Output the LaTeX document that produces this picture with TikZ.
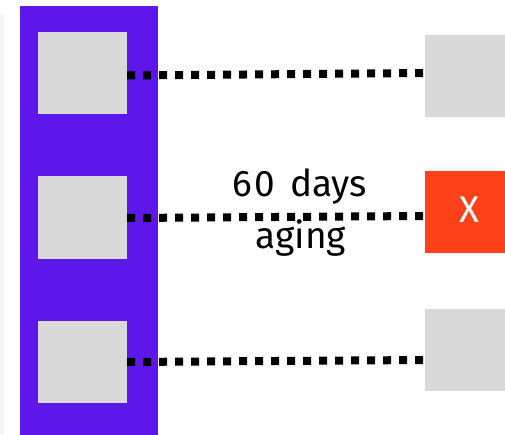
\documentclass[tikz,border=0pt]{standalone}
\usepackage{fontspec}
\setmainfont{Fira Sans}
\definecolor{barpurple}{HTML}{5E17EB}
\definecolor{tilegray}{HTML}{D9D9D9}
\definecolor{failred}{HTML}{FF4119}
\definecolor{edgegray}{HTML}{F7F7F7}
\begin{document}
\begin{tikzpicture}[x=1pt,y=-1pt,
  tile/.style={draw=none, fill=tilegray, inner sep=0pt,
    minimum width=89pt, minimum height=82pt},
  failtile/.style={tile, fill=failred},
  link/.style={line width=8pt, dash pattern=on 8pt off 8pt, line cap=butt},
  caption/.style={font=\fontsize{37}{40}\selectfont, anchor=base, inner sep=0pt}]
  \useasboundingbox (0,0) rectangle (505,435);
  \clip (0,0) rectangle (505,435);
  % faint strip on the left edge
  \fill[edgegray] (0,14) rectangle (4,440);
  % sample holder bar
  \fill[barpurple] (20,6) rectangle (158,440);
  % samples before aging
  \node[tile] (l1) at (82.5,73) {};
  \node[tile] (l2) at (82.5,217.5) {};
  \node[tile] (l3) at (82.5,362) {};
  % samples after aging
  \node[tile] (r1) at (469.5,76) {};
  \node[failtile] (r2) at (469.5,212.5) {};
  \node[tile] (r3) at (469.5,350) {};
  \node[caption, text=white] (mark) at (469,223) {X};
  % dotted links
  \draw[link] ([yshift=-2.5pt]l1.east) -- ([yshift=3pt]r1.west);
  \draw[link] ([yshift=-0.5pt]l2.east) -- ([yshift=-3.5pt]r2.west);
  \draw[link] (l3.east) -- ([yshift=-10pt]r3.west);
  % label on the middle link
  \node[caption] (days) at (300,197) {6\kern2pt 0\ \hspace{5pt}days};
  \node[caption] (aging) at (301,248) {aging};
\end{tikzpicture}
\end{document}
